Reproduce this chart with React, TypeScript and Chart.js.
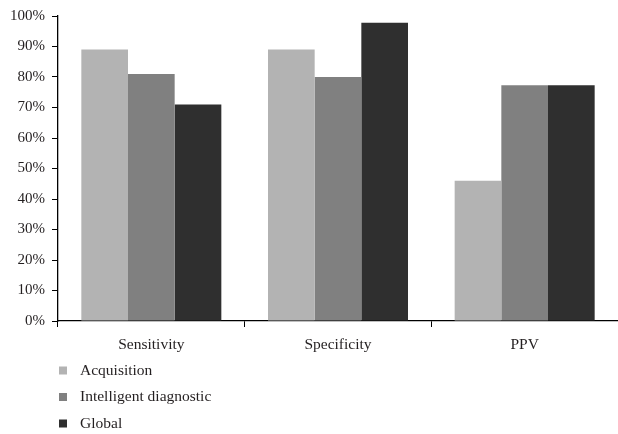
import React, { useEffect, useRef } from "react";
import { Chart, registerables } from "chart.js";

Chart.register(...registerables);

const categories = ["Sensitivity", "Specificity", "PPV"];
const seriesNames = ["Acquisition", "Intelligent diagnostic", "Global"];
const acquisition = [89, 89, 46];
const intelligentDiagnostic = [81, 80, 77.3];
const globalValues = [71, 97.8, 77.3];
const seriesColors = ["#b3b3b3", "#808080", "#2f2f2f"];
const yTicks = [0, 10, 20, 30, 40, 50, 60, 70, 80, 90, 100];

const FONT = "'Liberation Serif', 'DejaVu Serif', serif";
const TEXT = "#231f20";

const legendPlugin = {
  id: "customLegend",
  afterDraw(chart: any) {
    const ctx = chart.ctx;
    ctx.save();
    ctx.font = `15.5px ${FONT}`;
    ctx.textBaseline = "middle";
    ctx.textAlign = "left";
    chart.data.datasets.forEach((ds: any, i: number) => {
      const cy = 370.5 + i * 26.5;
      ctx.fillStyle = ds.backgroundColor;
      ctx.fillRect(59, cy - 4, 8, 8);
      ctx.fillStyle = TEXT;
      ctx.fillText(ds.label, 80, cy);
    });
    ctx.restore();
  },
};

export default function App() {
  const ref = useRef<HTMLCanvasElement>(null);
  useEffect(() => {
    if (!ref.current) return;
    const seriesData = [acquisition, intelligentDiagnostic, globalValues];
    const chart = new Chart(ref.current, {
      type: "bar",
      data: {
        labels: categories,
        datasets: seriesNames.map((name, i) => ({
          label: name,
          data: seriesData[i],
          backgroundColor: seriesColors[i],
          borderWidth: 0,
          categoryPercentage: 0.75,
          barPercentage: 1,
        })),
      },
      options: {
        animation: false,
        responsive: false,
        devicePixelRatio: 1,
        layout: { padding: { left: 0, right: 0, top: 14, bottom: 73 } },
        plugins: {
          legend: { display: false },
          tooltip: { enabled: false },
        },
        scales: {
          x: {
            grid: {
              display: true,
              drawOnChartArea: false,
              offset: true,
              tickLength: 6,
              color: "#000",
            },
            border: { display: true, color: "#000", width: 1.3 },
            ticks: {
              color: TEXT,
              font: { family: FONT, size: 15.5 },
              padding: 9,
              maxRotation: 0,
            },
            afterFit: (scale: any) => {
              scale.height = 40;
            },
          },
          y: {
            min: 0,
            max: 100,
            afterBuildTicks: (scale: any) => {
              scale.ticks = yTicks.map((v) => ({ value: v }));
            },
            grid: {
              display: true,
              drawOnChartArea: false,
              tickLength: 6,
              color: "#000",
            },
            border: { display: true, color: "#000", width: 1.3 },
            ticks: {
              color: TEXT,
              font: { family: FONT, size: 15 },
              padding: 7,
              callback: (v: any) => `${v}%`,
            },
            afterFit: (scale: any) => {
              scale.width = 58;
            },
          },
        },
      },
      plugins: [legendPlugin],
    });
    return () => chart.destroy();
  }, []);
  return (
    <canvas
      ref={ref}
      width={618}
      height={434}
      style={{ position: "absolute", left: 0, top: 0, width: 618, height: 434, background: "#fff" }}
    />
  );
}
